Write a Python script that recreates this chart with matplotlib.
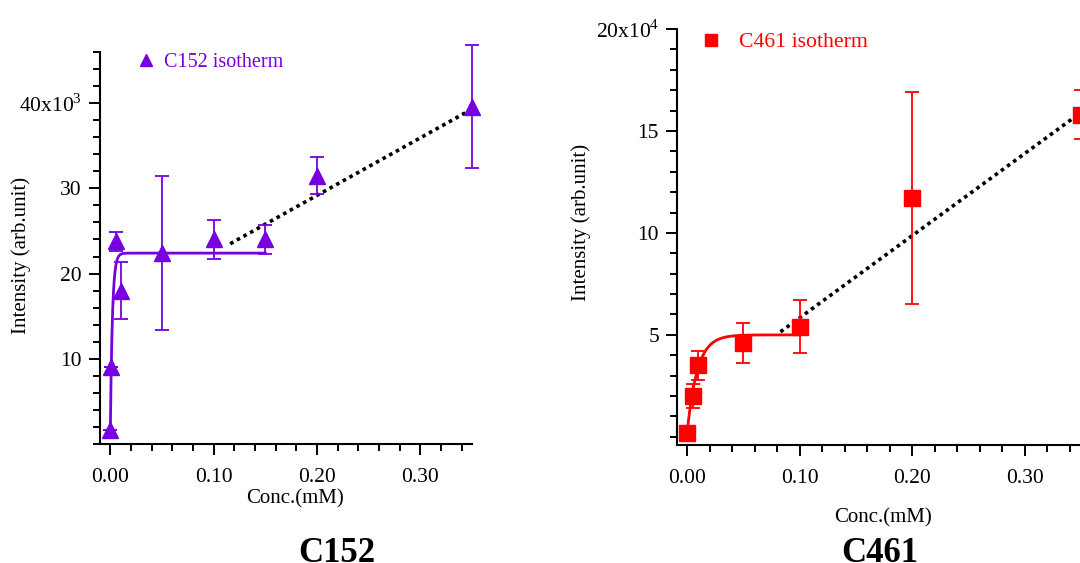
import numpy as np
import matplotlib
matplotlib.use("Agg")
import matplotlib.pyplot as plt
from matplotlib.lines import Line2D
from matplotlib.ticker import MultipleLocator, FixedLocator, FixedFormatter

plt.rcParams['font.family'] = ['Liberation Serif', 'DejaVu Serif']
plt.rcParams['mathtext.fontset'] = 'custom'
plt.rcParams['mathtext.rm'] = 'Liberation Serif'

# C152 data (intensity in units of 10^3)
c152_conc = [0.0, 0.001, 0.005, 0.01, 0.05, 0.10, 0.15, 0.20, 0.35]
c152_int = [1.7, 9.0, 23.8, 18.0, 22.4, 24.0, 24.0, 31.5, 39.6]
c152_err = [0.0, 0.0, 1.1, 3.3, 9.0, 2.3, 1.7, 2.2, 7.2]
# saturation fit y0 + (ymax - y0) * (1 - exp(-x / tau)), linear trend ends
c152_fit = dict(y0=1.5, ymax=22.4, tau=0.002, xmax=0.15)
c152_trend_x = [0.116, 0.35]
c152_trend_y = [23.5, 39.3]

# C461 data (intensity in units of 10^4)
c461_conc = [0.0, 0.005, 0.01, 0.05, 0.10, 0.20, 0.35]
c461_int = [0.2, 2.0, 3.5, 4.6, 5.4, 11.7, 15.8]
c461_err = [0.0, 0.6, 0.7, 1.0, 1.3, 5.2, 1.2]
c461_fit = dict(y0=0.2, ymax=5.0, tau=0.009, xmax=0.10)
c461_trend_x = [0.083, 0.35]
c461_trend_y = [5.15, 15.9]

purple = '#7700e0'
red = '#ff0000'


def fit_curve(p):
    x = np.linspace(0, p['xmax'], 400)
    return x, p['y0'] + (p['ymax'] - p['y0']) * (1 - np.exp(-x / p['tau']))


def style_axes(ax):
    for s in ('top', 'right'):
        ax.spines[s].set_visible(False)
    for s in ('left', 'bottom'):
        ax.spines[s].set_linewidth(1.5)
    ax.tick_params(which='major', direction='out', length=8, width=1.4, labelsize=15.5)
    ax.tick_params(axis='x', which='major', pad=9)
    ax.tick_params(axis='y', which='major', pad=5)
    ax.tick_params(which='minor', direction='out', length=5, width=1.4)
    ax.xaxis.set_major_locator(FixedLocator([0.0, 0.1, 0.2, 0.3]))
    ax.xaxis.set_major_formatter(FixedFormatter(['0.00', '0.10', '0.20', '0.30']))
    ax.xaxis.set_minor_locator(MultipleLocator(0.02))
    ax.patch.set_alpha(0)


fig = plt.figure(figsize=(10.8, 5.63), dpi=100)

# ---- C152 ----
ax1 = fig.add_axes([100 / 1080, 1 - 444 / 563, 372 / 1080, 392 / 563])
style_axes(ax1)
ax1.set_xlim(-0.01, 0.35)
ax1.set_ylim(0, 46)
ax1.yaxis.set_major_locator(FixedLocator([10, 20, 30, 40]))
ax1.yaxis.set_major_formatter(FixedFormatter(['10', '20', '30', r'40x10$^{3}$']))
ax1.yaxis.set_minor_locator(MultipleLocator(2))
fx, fy = fit_curve(c152_fit)
ax1.plot(fx, fy, color=purple, lw=2.0, zorder=2)
ax1.plot(c152_trend_x, c152_trend_y, color='black', lw=2.6, ls=(0, (1, 1.1)), zorder=3)
ax1.errorbar(c152_conc, c152_int, yerr=c152_err, fmt='^', color=purple, ms=11,
             capsize=5, elinewidth=1.3, capthick=1.3, clip_on=False, zorder=4)
h1 = Line2D([], [], ls='none', marker='^', color=purple, ms=9)
ax1.legend([h1], ['C152 isotherm'], loc='upper left', bbox_to_anchor=(0.048, 1.045),
           frameon=False, fontsize=14.5, handletextpad=0.4, labelcolor=purple,
           handlelength=1.0)
ax1.set_xlabel('Conc.(mM)', fontsize=15)
ax1.xaxis.set_label_coords((295 - 100) / 372, -(489 - 444) / 392)
ax1.set_ylabel('Intensity (arb.unit)', fontsize=15)
ax1.yaxis.set_label_coords(-(100 - 31) / 372, (444 - 255) / 392)
fig.text(337 / 1080, 1 - 562 / 563, 'C152', fontsize=25, fontweight='bold',
         ha='center', va='baseline')

# ---- C461 ----
ax2 = fig.add_axes([677 / 1080, 1 - 445 / 563, 415 / 1080, 416 / 563])
style_axes(ax2)
ax2.set_xlim(-0.009, 0.36)
ax2.set_ylim(-0.4, 20)
ax2.yaxis.set_major_locator(FixedLocator([5, 10, 15, 20]))
ax2.yaxis.set_major_formatter(FixedFormatter(['5', '10', '15', r'20x10$^{4}$']))
ax2.yaxis.set_minor_locator(MultipleLocator(1))
fx, fy = fit_curve(c461_fit)
ax2.plot(fx, fy, color=red, lw=2.0, zorder=2)
ax2.plot(c461_trend_x, c461_trend_y, color='black', lw=2.6, ls=(0, (1, 1.1)), zorder=3)
ax2.errorbar(c461_conc, c461_int, yerr=c461_err, fmt='s', color=red, ms=11,
             capsize=5, elinewidth=1.3, capthick=1.3, clip_on=False, zorder=4)
h2 = Line2D([], [], ls='none', marker='s', color=red, ms=8)
ax2.legend([h2], ['C461 isotherm'], loc='upper left', bbox_to_anchor=(0.008, 1.04),
           frameon=False, fontsize=15.7, handletextpad=0.8, labelcolor=red,
           handlelength=1.0)
ax2.set_xlabel('Conc.(mM)', fontsize=15)
ax2.xaxis.set_label_coords((883 - 677) / 415, -(508 - 445) / 416)
ax2.set_ylabel('Intensity (arb.unit)', fontsize=15)
ax2.yaxis.set_label_coords(-(677 - 591) / 415, (445 - 222) / 416)
fig.text(880 / 1080, 1 - 562 / 563, 'C461', fontsize=25, fontweight='bold',
         ha='center', va='baseline')

fig.savefig('out.png', dpi=100)
